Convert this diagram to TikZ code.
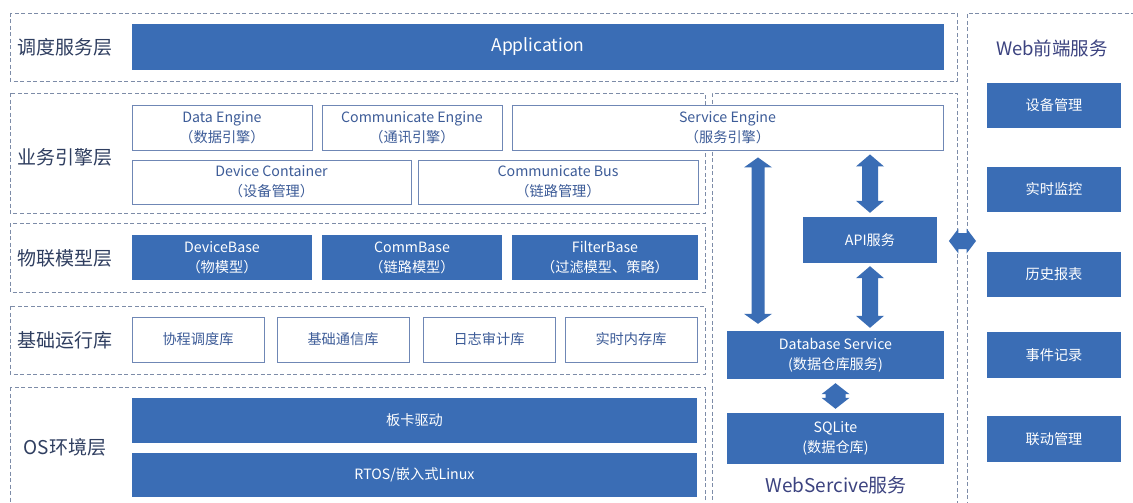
\documentclass[tikz,border=0pt]{standalone}
\usepackage{fontspec}
\setmainfont{Noto Sans CJK SC}
\usetikzlibrary{calc}
\definecolor{bfill}{HTML}{3A6DB5}
\definecolor{dashc}{HTML}{7D8CA8}
\definecolor{btext}{HTML}{3D5C98}
\definecolor{lbl}{HTML}{2F3E60}
\definecolor{ttl}{HTML}{3C4380}
\definecolor{wborder}{HTML}{6F87B5}
\tikzset{
  layer/.style={draw=dashc, dashed, dash pattern=on 4pt off 2.5pt, line width=0.9pt},
  bluebox/.style={fill=bfill, draw=none, text=white, inner sep=0pt, align=center, font=\fontsize{14.2}{20}\selectfont},
  whitebox/.style={fill=white, draw=wborder, line width=0.9pt, text=btext, inner sep=0pt, align=center, font=\fontsize{14.2}{20}\selectfont},
  lbltext/.style={text=lbl, font=\fontsize{19}{20}\selectfont, inner sep=0pt},
  conn/.style={fill=bfill, draw=none},
}
% vertical double arrow: #1 upper anchor, #2 lower anchor, #3 x reference, #4 gap, #5 shaft half width, #6 head half width, #7 head length
\newcommand\vdarrow[7]{%
  \fill[conn] let \p1=(#1), \p2=(#2), \p3=(#3) in
   (\x3-#5,\y1-#4-#7) -- (\x3-#6,\y1-#4-#7) -- (\x3,\y1-#4) -- (\x3+#6,\y1-#4-#7) -- (\x3+#5,\y1-#4-#7)
   -- (\x3+#5,\y2+#4+#7) -- (\x3+#6,\y2+#4+#7) -- (\x3,\y2+#4) -- (\x3-#6,\y2+#4+#7) -- (\x3-#5,\y2+#4+#7) -- cycle;}
% horizontal double arrow: #1 left anchor, #2 right anchor, #3 y reference, #4 overlap, #5 shaft half height, #6 head half height, #7 head length
\newcommand\hdarrow[7]{%
  \fill[conn] let \p1=(#1), \p2=(#2), \p3=(#3) in
   (\x1-#4+#7,\y3+#5) -- (\x1-#4+#7,\y3+#6) -- (\x1-#4,\y3) -- (\x1-#4+#7,\y3-#6) -- (\x1-#4+#7,\y3-#5)
   -- (\x2+#4-#7,\y3-#5) -- (\x2+#4-#7,\y3-#6) -- (\x2+#4,\y3) -- (\x2+#4-#7,\y3+#6) -- (\x2+#4-#7,\y3+#5) -- cycle;}
\begin{document}
\begin{tikzpicture}[x=1pt,y=-1pt]
\useasboundingbox[fill=white] (0,0) rectangle (1133,503);
% layer frames
\draw[layer] (10,13) rectangle (957,81);
\draw[layer] (10,93) rectangle (705,213);
\draw[layer] (10,223) rectangle (705,292);
\draw[layer] (10,306) rectangle (705,374);
\draw[layer] (10,387) rectangle (705,512);
\node[layer, minimum width=245pt, minimum height=420pt, anchor=north west, inner sep=0pt] (WS) at (712,93) {};
\node[layer, minimum width=180pt, minimum height=510pt, anchor=north west, inner sep=0pt] (WF) at (967,13) {};
% layer labels
\node[lbltext] (t1) at (65,47) {调度服务层};
\node[lbltext] (t2) at (65,157) {业务引擎层};
\node[lbltext] (t3) at (65,258) {物联模型层};
\node[lbltext] (t4) at (65,340) {基础运行库};
\node[lbltext] (t5) at (65,447) {OS环境层};
% dispatch layer
\node[bluebox, minimum width=812pt, minimum height=46pt, font=\fontsize{17.5}{20}\selectfont] (app) at (538,47) {Application};
% engine layer
\node[whitebox, minimum width=180pt, minimum height=45pt] (de) at (222,127.5) {Data Engine\\（数据引擎）};
\node[whitebox, minimum width=180pt, minimum height=45pt] (ce) at (412,127.5) {Communicate Engine\\（通讯引擎）};
\node[whitebox, minimum width=431pt, minimum height=45pt] (se) at (727.5,127.5) {Service Engine\\（服务引擎）};
\node[whitebox, minimum width=279pt, minimum height=44pt] (dc) at (271.5,182) {Device Container\\（设备管理）};
\node[whitebox, minimum width=280pt, minimum height=44pt] (cb) at (558,182) {Communicate Bus\\（链路管理）};
% IoT model layer
\node[bluebox, minimum width=180pt, minimum height=45pt] (db) at (222,257.5) {DeviceBase\\（物模型）};
\node[bluebox, minimum width=180pt, minimum height=45pt] (cm) at (412,257.5) {CommBase\\（链路模型）};
\node[bluebox, minimum width=186pt, minimum height=45pt] (fb) at (605,257.5) {FilterBase\\（过滤模型、策略）};
% runtime libs
\node[whitebox, minimum width=132pt, minimum height=45pt] (r1) at (198,339.5) {协程调度库};
\node[whitebox, minimum width=132pt, minimum height=45pt] (r2) at (343,339.5) {基础通信库};
\node[whitebox, minimum width=132pt, minimum height=45pt] (r3) at (489,339.5) {日志审计库};
\node[whitebox, minimum width=132pt, minimum height=45pt] (r4) at (631,339.5) {实时内存库};
% OS layer
\node[bluebox, minimum width=565pt, minimum height=45pt] (bd) at (414.5,420.5) {板卡驱动};
\node[bluebox, minimum width=565pt, minimum height=44pt] (os) at (414.5,475) {RTOS/嵌入式Linux};
% web service
\node[bluebox, minimum width=134pt, minimum height=46pt] (api) at (870,240) {API服务};
\node[bluebox, minimum width=217pt, minimum height=48pt] (dbs) at (835.5,355) {Database Service\\(数据仓库服务)};
\node[bluebox, minimum width=217pt, minimum height=51pt] (sql) at (835.5,438.5) {SQLite\\(数据仓库)};
\node[text=ttl, font=\fontsize{19}{20}\selectfont, inner sep=0pt] (wst) at (836,485) {WebSercive服务};
% web front end
\node[text=ttl, font=\fontsize{18.5}{20}\selectfont, inner sep=0pt] (wft) at (1052,48) {Web前端服务};
\node[bluebox, minimum width=134pt, minimum height=45pt] (w1) at (1054,105.5) {设备管理};
\node[bluebox, minimum width=134pt, minimum height=45pt] (w2) at (1054,189.5) {实时监控};
\node[bluebox, minimum width=134pt, minimum height=45pt] (w3) at (1054,274.5) {历史报表};
\node[bluebox, minimum width=134pt, minimum height=46pt] (w4) at (1054,355) {事件记录};
\node[bluebox, minimum width=134pt, minimum height=46pt] (w5) at (1054,439) {联动管理};
% connectors
\coordinate (lx) at (758,0);
\coordinate (ay) at (0,241);
\vdarrow{se.south}{dbs.north}{lx}{7pt}{6.5pt}{14pt}{10pt}
\vdarrow{se.south}{api.north}{api.north}{4pt}{8pt}{14pt}{12pt}
\vdarrow{api.south}{dbs.north}{api.north}{3pt}{8pt}{14pt}{12pt}
\vdarrow{dbs.south}{sql.north}{dbs.south}{4pt}{10pt}{14pt}{11pt}
\hdarrow{WS.east}{WF.west}{ay}{9pt}{8pt}{12.5pt}{9.5pt}
\end{tikzpicture}
\end{document}
